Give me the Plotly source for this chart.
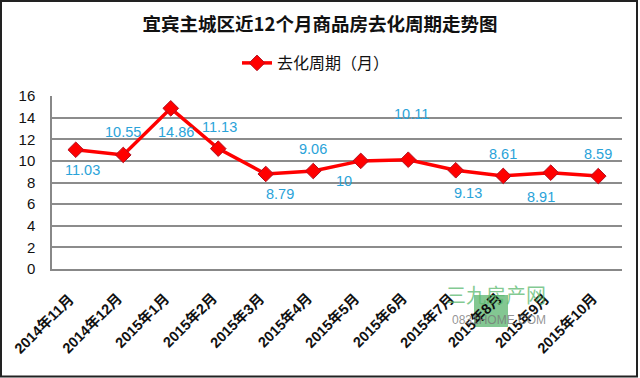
import plotly.graph_objects as go

categories = ["2014年11月", "2014年12月", "2015年1月", "2015年2月", "2015年3月", "2015年4月",
              "2015年5月", "2015年6月", "2015年7月", "2015年8月", "2015年9月", "2015年10月"]
values = [11.03, 10.55, 14.86, 11.13, 8.79, 9.06, 10, 10.11, 9.13, 8.61, 8.91, 8.59]
value_labels = ["11.03", "10.55", "14.86", "11.13", "8.79", "9.06", "10", "10.11", "9.13", "8.61", "8.91", "8.59"]
y_ticks = [0, 2, 4, 6, 8, 10, 12, 14, 16]
series_name = "去化周期（月）"
title_text = "宜宾主城区近12个月商品房去化周期走势图"

# pixel offsets for data labels (styling)
label_shift = [(7, -20), (0, 23), (5, -24), (1, 22), (14, -20), (0, 22),
               (-17, -20), (3, 46), (12, -23), (0, 22), (-10, -24), (0, 22)]

fig = go.Figure()
fig.add_trace(go.Scatter(
    x=categories, y=values, mode="lines+markers", name=series_name,
    line=dict(color="#ff0000", width=3.5),
    marker=dict(symbol="diamond", size=12, color="#ff0000",
                line=dict(color="#b01020", width=1)),
))

for c, v, t, (dx, dy) in zip(categories, values, value_labels, label_shift):
    fig.add_annotation(x=c, y=v, text=t, showarrow=False, xshift=dx, yshift=dy,
                       font=dict(family="Liberation Sans, Arial", size=14.5, color="#2aa3d9"))

# rotated category labels placed on the category axis
for c in categories:
    fig.add_annotation(x=c, y=0, yref="y", text="<b>" + c + "</b>", showarrow=False,
                       textangle=-45, xanchor="right", yanchor="top",
                       xshift=4, yshift=-18,
                       font=dict(family="Liberation Sans, Noto Sans CJK SC", size=14.5,
                                 color="#111111"))

# outer border
fig.add_shape(type="rect", xref="paper", yref="paper",
              x0=(1 - 52) / 570, x1=(637 - 52) / 570,
              y0=(269 - 376.5) / 173, y1=(269 - 1) / 173,
              line=dict(color="#222222", width=2), layer="above")

# watermark (logo)
fig.add_shape(type="rect", xref="paper", yref="paper",
              x0=(474 - 52) / 570, x1=(508 - 52) / 570,
              y0=(269 - 327) / 173, y1=(269 - 295) / 173,
              fillcolor="rgba(90,180,110,0.75)", line=dict(width=0), layer="above")
fig.add_annotation(xref="paper", yref="paper", x=(548 - 52) / 570, y=(269 - 311) / 173,
                   text="三九房产网", showarrow=False,
                   font=dict(family="Noto Sans CJK SC", size=20, color="rgba(90,185,110,0.75)"))
fig.add_annotation(xref="paper", yref="paper", x=(548 - 52) / 570, y=(269 - 329) / 173,
                   text="0831HOME.COM", showarrow=False,
                   font=dict(family="Liberation Sans Narrow, Liberation Sans", size=12,
                             color="rgba(120,120,120,0.8)"))

fig.update_layout(
    width=640, height=378,
    margin=dict(l=52, r=18, t=96, b=109, autoexpand=False),
    paper_bgcolor="white", plot_bgcolor="white",
    title=dict(text="<b>" + title_text + "</b>", x=(320 - 52) / 570, xanchor="center",
               xref="paper",
               y=1 - 25 / 378, yanchor="middle",
               font=dict(family="Noto Sans CJK SC", size=18.5, color="#111111")),
    showlegend=True,
    legend=dict(orientation="h", x=(316 - 52) / 570, xanchor="center", y=(269 - 63) / 173,
                yanchor="middle", itemwidth=30,
                font=dict(family="Noto Sans CJK SC", size=16, color="#111111"),
                bgcolor="rgba(0,0,0,0)"),
    font=dict(family="Noto Sans CJK SC"),
)

fig.update_xaxes(
    type="category", range=[-0.5, len(categories) - 0.5], autorange=False,
    showgrid=False, showticklabels=False,
    showline=True, linecolor="#888888", linewidth=1.5, ticks="",
)
fig.update_yaxes(
    range=[0, 16], autorange=False, tickvals=y_ticks, showgrid=True, gridcolor="#8c8c8c",
    gridwidth=1.5, showline=True, linecolor="#888888", linewidth=1.5, zeroline=False,
    ticks="", ticklabelstandoff=12,
    tickfont=dict(family="Liberation Sans, Arial", size=15, color="#111111"),
)

fig.write_html("out.html", config={"displayModeBar": False},
               post_script="document.body.style.margin='0';document.body.style.padding='0';")
